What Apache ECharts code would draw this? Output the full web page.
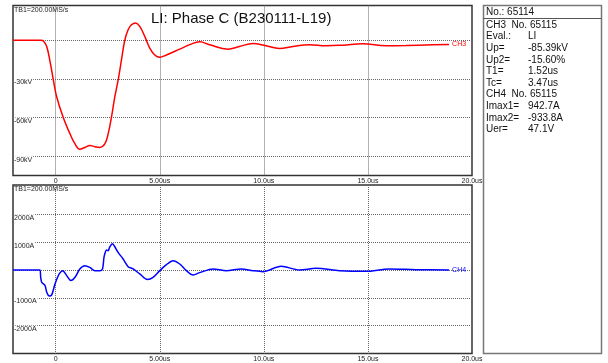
<!DOCTYPE html>
<html><head><meta charset="utf-8">
<script src="https://cdn.jsdelivr.net/npm/echarts@6/dist/echarts.min.js"></script>
<style>html,body{margin:0;padding:0;background:#fff}#c{width:608px;height:363px}</style>
</head><body><div id="c"></div>
<script>
const chartTitle = 'LI: Phase C (B230111-L19)';
const sampleLabel = 'TB1=200.00MS/s';
const xTickValues = [0, 5, 10, 15, 20];
const xTickLabels = ['0', '5.00us', '10.0us', '15.0us', '20.0us'];
const vTickValues = [-90, -60, -30];
const vTickLabels = ['-90kV', '-60kV', '-30kV'];
const aTickValues = [-2000, -1000, 1000, 2000];
const aTickLabels = ['-2000A', '-1000A', '1000A', '2000A'];

// CH3 voltage (kV) vs time (us)
const ch3Time = [-2.05, -0.7, -0.59, -0.43, -0.27, -0.11, 0.05, 0.36, 0.69, 0.93, 1.16, 1.4, 1.64, 1.88, 2.12, 2.36, 2.52, 2.68, 2.84, 3.0, 3.16, 3.32, 3.48, 3.64, 3.85, 4.04, 4.28, 4.52, 4.76, 5.0, 5.32, 5.96, 6.5, 6.92, 7.4, 8.27, 8.83, 9.47, 10.1, 10.75, 11.39, 12.19, 12.99, 13.79, 14.75, 15.87, 16.83, 18.1, 18.9];
const ch3Volt = [0, 0, -0.5, -4.8, -16.6, -31, -44, -59.7, -72.7, -80.5, -84.6, -83.2, -81.8, -82.6, -83.2, -80.5, -72.7, -59.7, -44, -31, -15.3, 0, 8.2, 12.1, 13.5, 10.8, 3, -6.1, -11.4, -13.2, -11.4, -6.9, -3.0, -1.2, -3.5, -6.9, -4.8, -2.5, -4.3, -6.4, -4.8, -3.5, -4.3, -3.8, -2.7, -4.3, -4.1, -3.5, -3.3];

// CH4 current (A) vs time (us)
const ch4Time = [-2.05, -0.76, -0.72, -0.67, -0.51, -0.43, -0.31, -0.19, -0.03, 0.17, 0.34, 0.53, 0.73, 0.93, 1.16, 1.4, 1.64, 1.88, 2.12, 2.25, 2.32, 2.38, 2.44, 2.52, 2.6, 2.73, 2.84, 3.0, 3.24, 3.48, 3.72, 4.04, 4.41, 4.68, 5.0, 5.32, 5.64, 5.96, 6.28, 6.6, 6.92, 7.56, 8.2, 8.92, 9.47, 9.95, 10.83, 11.71, 12.51, 13.63, 14.9, 16.02, 17.3, 18.9];
const ch4Amp = [0, 0, -264, -443, -560, -800, -934, -893, -500, -143, -25, -204, -382, -264, 36, 154, 93, -25, -25, 36, 450, 629, 714, 689, 832, 943, 832, 629, 393, 118, 36, -143, -346, -264, -25, 189, 332, 214, -25, -179, -96, 36, -25, 36, -25, -61, 129, 0, 57, -25, -50, 36, 11, 0];

const infoHeader = 'No.: 65114';
const infoLabels = ['CH3  No. 65115', 'Eval.:', 'Up=', 'Up2=', 'T1=', 'Tc=', 'CH4  No. 65115', 'Imax1=', 'Imax2=', 'Uer='];
const infoValues = ['', 'LI', '-85.39kV', '-15.60%', '1.52us', '3.47us', '', '942.7A', '-933.8A', '47.1V'];

const FONT = 'Liberation Sans, Arial, sans-serif';
const zip = (a, b) => a.map((v, i) => [v, b[i]]);
const lookup = (vals, labs) => v => { const i = vals.indexOf(v); return i >= 0 ? labs[i] : ''; };
const gridLine = { show: true, lineStyle: { color: '#666', type: [1, 1], width: 1 } };

function xAxisFor(g) {
  return {
    gridIndex: g, type: 'value', min: -2.05, max: 20,
    axisLine: { show: false },
    axisTick: { show: false, customValues: [0, 5, 10, 15] },
    splitLine: gridLine,
    axisLabel: { customValues: xTickValues, formatter: lookup(xTickValues, xTickLabels),
      fontSize: 7, color: '#222', margin: 2, fontFamily: FONT, hideOverlap: false, showMaxLabel: true }
  };
}
function yAxisFor(g, min, max, ticks, labVals, labs) {
  return {
    gridIndex: g, type: 'value', min: min, max: max,
    axisLine: { show: false },
    axisTick: { show: false, customValues: ticks },
    splitLine: gridLine,
    axisLabel: { inside: true, customValues: labVals, formatter: lookup(labVals, labs),
      fontSize: 7, color: '#222', margin: 1, verticalAlign: 'top', fontFamily: FONT,
      backgroundColor: '#fff', padding: [0, 1, 0, 0] }
  };
}

const infoGraphics = [
  { type: 'rect', shape: { x: 483.5, y: 5.5, width: 118, height: 348 }, style: { fill: '#fff', stroke: '#777', lineWidth: 1.5 } },
  { type: 'line', shape: { x1: 483.5, y1: 18.5, x2: 601.5, y2: 18.5 }, style: { stroke: '#555', lineWidth: 1 } },
  { type: 'text', x: 486, y: 12, style: { text: infoHeader, fontSize: 10, fontFamily: FONT, fill: '#111', verticalAlign: 'middle' } }
];
infoLabels.forEach((t, i) => {
  const y = 25 + i * 11.6;
  infoGraphics.push({ type: 'text', x: 486, y: y, style: { text: t, fontSize: 10, fontFamily: FONT, fill: '#111', verticalAlign: 'middle' } });
  if (infoValues[i]) infoGraphics.push({ type: 'text', x: 528, y: y, style: { text: infoValues[i], fontSize: 10, fontFamily: FONT, fill: '#111', verticalAlign: 'middle' } });
});

const chart = echarts.init(document.getElementById('c'), null, { renderer: 'canvas' });
chart.setOption({
  animation: false,
  backgroundColor: '#fff',
  title: [
    { text: chartTitle, left: 151, top: 11, padding: 0, textStyle: { fontSize: 15, fontWeight: 'normal', color: '#111', fontFamily: FONT } },
    { text: sampleLabel, left: 14, top: 7, padding: 0, textStyle: { fontSize: 7, fontWeight: 'normal', color: '#222', fontFamily: FONT } },
    { text: sampleLabel, left: 14, top: 186, padding: 0, textStyle: { fontSize: 7, fontWeight: 'normal', color: '#222', fontFamily: FONT } }
  ],
  grid: [
    { left: 13, right: 136, top: 5.5, height: 170, show: true, borderColor: '#333', borderWidth: 1.5, backgroundColor: '#fff' },
    { left: 13, right: 136, top: 185, height: 168.5, show: true, borderColor: '#333', borderWidth: 1.5, backgroundColor: '#fff' }
  ],
  xAxis: [xAxisFor(0), xAxisFor(1)],
  yAxis: [
    yAxisFor(0, -105, 27, [-90, -60, -30, 0], vTickValues, vTickLabels),
    yAxisFor(1, -3000, 3050, [-2000, -1000, 0, 1000, 2000], aTickValues, aTickLabels)
  ],
  series: [
    { type: 'line', name: 'CH3', xAxisIndex: 0, yAxisIndex: 0, data: zip(ch3Time, ch3Volt), smooth: 0.4, showSymbol: false,
      lineStyle: { color: '#ff0000', width: 1.5 },
      endLabel: { show: true, formatter: 'CH3', color: '#ff0000', fontSize: 7, distance: 3, fontFamily: FONT } },
    { type: 'line', name: 'CH4', xAxisIndex: 1, yAxisIndex: 1, data: zip(ch4Time, ch4Amp), smooth: 0.3, showSymbol: false,
      lineStyle: { color: '#0000ff', width: 1.5 },
      endLabel: { show: true, formatter: 'CH4', color: '#0000ff', fontSize: 7, distance: 3, fontFamily: FONT } }
  ],
  graphic: infoGraphics
});
</script></body></html>
